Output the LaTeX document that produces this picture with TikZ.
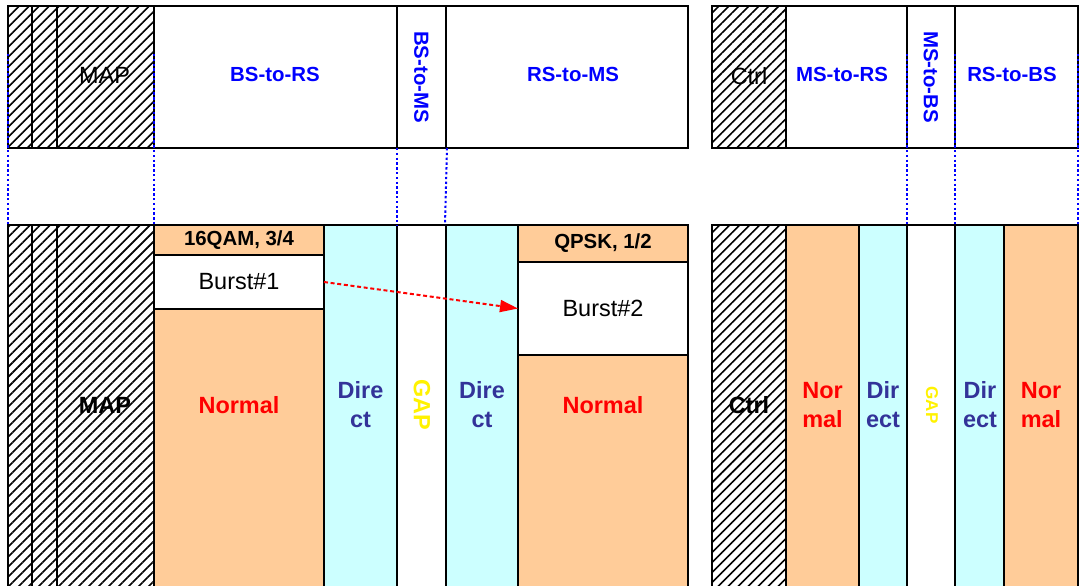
\documentclass[tikz,border=0pt]{standalone}
\usepackage{fontspec}
\setmainfont{Liberation Sans}
\usetikzlibrary{patterns.meta,arrows.meta}
\definecolor{orangefill}{RGB}{255,204,153}
\definecolor{cyanfill}{RGB}{204,255,255}
\definecolor{dirblue}{RGB}{51,51,153}
\newcommand\fsL{\fontsize{17.6}{21.7}\selectfont}
\newcommand\fsM{\fontsize{15.3}{18}\selectfont}
\newcommand\fsS{\fontsize{12.8}{15}\selectfont}
\newcommand\cell[7]{\node[#6, minimum width={(#4-#2)*0.75pt}, minimum height={(#5-#3)*0.75pt}] (#1) at ({(#2+#4)/2},{(#3+#5)/2}) {#7};}
\tikzset{
  cellbox/.style={draw=black, line width=1.5pt, inner sep=0pt, outer sep=0pt, fill=white},
  hatchbox/.style={cellbox, pattern={Lines[angle=45,distance=5.3pt,line width=1.2pt]}, pattern color=black},
  orangebox/.style={cellbox, fill=orangefill},
  cyanbox/.style={cellbox, fill=cyanfill},
  toplbl/.style={font=\fsM\bfseries, text=blue, inner sep=0pt},
  hatchlbl/.style={font=\fsL, text=black, inner sep=0pt},
  boldlbl/.style={font=\fsL\bfseries, text=black, inner sep=0pt},
  normlbl/.style={font=\fsL\bfseries, text=red, align=center, inner sep=0pt},
  dirlbl/.style={font=\fsL\bfseries, text=dirblue, align=center, inner sep=0pt},
  gaplbl/.style={font=\fsL\bfseries, text=yellow, rotate=-90, inner sep=0pt},
  gapsmall/.style={font=\fsS\bfseries, text=yellow, rotate=-90, inner sep=0pt},
  hdrlbl/.style={font=\fsM\bfseries, text=black},
  burstlbl/.style={font=\fsL, text=black},
  guide/.style={draw=blue, line width=1.5pt, dash pattern=on 1.8pt off 1.8pt},
  flowarrow/.style={draw=red, line width=1.5pt, dash pattern=on 3pt off 2pt, -{Triangle[length=13.5pt,width=9pt]}}
}
\begin{document}
\begin{tikzpicture}[x=0.75pt,y=-0.75pt]
\useasboundingbox (0,0) rectangle (1080,585);
\clip (0,0) rectangle (1080,585);
% ---- top frame, left
\cell{t1}{8}{6}{32}{148}{hatchbox}{}
\cell{t2}{32}{6}{57}{148}{hatchbox}{}
\cell{tmap}{57}{6}{154}{148}{hatchbox}{}
\cell{tbsrs}{154}{6}{397}{148}{cellbox}{}
\cell{tbsms}{397}{6}{446}{148}{cellbox}{}
\cell{trsms}{446}{6}{688}{148}{cellbox}{}
% ---- top frame, right
\cell{tctrl}{712}{6}{786}{148}{hatchbox}{}
\cell{tmsrs}{786}{6}{907}{148}{cellbox}{}
\cell{tmsbs}{907}{6}{955}{148}{cellbox}{}
\cell{trsbs}{955}{6}{1078}{148}{cellbox}{}
% top labels
\node[hatchlbl] (lmap) at (104.5,75) {MAP};
\node[toplbl] (lbsrs) at (275,74) {BS-to-RS};
\node[toplbl, rotate=-90] (lbsms) at (tbsms) {BS-to-MS};
\node[toplbl] (lrsms) at (573,74) {RS-to-MS};
\node[hatchlbl] (lctrl) at (749,76) {Ctrl};
\node[toplbl] (lmsrs) at (842,74) {MS-to-RS};
\node[toplbl, rotate=-90] (lmsbs) at (tmsbs) {MS-to-BS};
\node[toplbl] (lrsbs) at (1012,74) {RS-to-BS};
% ---- bottom frame, left
\cell{b1}{8}{225}{32}{600}{hatchbox}{}
\cell{b2}{32}{225}{57}{600}{hatchbox}{}
\cell{bmap}{57}{225}{154}{600}{hatchbox}{}
\cell{h16}{154}{225}{324}{255}{orangebox}{}
\cell{bb1}{154}{255}{324}{309}{cellbox}{}
\cell{bn1}{154}{309}{324}{600}{orangebox}{}
\cell{bd1}{324}{225}{397}{600}{cyanbox}{}
\cell{bgap}{397}{225}{446}{600}{cellbox}{}
\cell{bd2}{446}{225}{518}{600}{cyanbox}{}
\cell{hq}{518}{225}{688}{262}{orangebox}{}
\cell{bb2}{518}{262}{688}{355}{cellbox}{}
\cell{bn2}{518}{355}{688}{600}{orangebox}{}
% ---- bottom frame, right
\cell{bctrl}{712}{225}{786}{600}{hatchbox}{}
\cell{bn3}{786}{225}{859}{600}{orangebox}{}
\cell{bd3}{859}{225}{907}{600}{cyanbox}{}
\cell{bgap2}{907}{225}{955}{600}{cellbox}{}
\cell{bd4}{955}{225}{1004}{600}{cyanbox}{}
\cell{bn4}{1004}{225}{1078}{600}{orangebox}{}
% bottom labels
\node[hdrlbl] (l16) at (h16) {16QAM, 3/4};
\node[burstlbl] (lb1) at (bb1) {Burst\#1};
\node[hdrlbl] (lq) at (hq) {QPSK, 1/2};
\node[burstlbl] (lb2) at (bb2) {Burst\#2};
\node[boldlbl] (lmap2) at (105,405) {MAP};
\node[normlbl] (ln1) at (239,405) {Normal};
\node[dirlbl] (ld1) at (360.5,405) {Dire\\ct};
\node[gaplbl] (lg1) at (422,405) {GAP};
\node[dirlbl] (ld2) at (482,405) {Dire\\ct};
\node[normlbl] (ln2) at (603,405) {Normal};
\node[boldlbl] (lctrl2) at (749,405) {Ctrl};
\node[normlbl] (ln3) at (822.5,405) {Nor\\mal};
\node[dirlbl] (ld3) at (883,405) {Dir\\ect};
\node[gapsmall] (lg2) at (932,405) {GAP};
\node[dirlbl] (ld4) at (980,405) {Dir\\ect};
\node[normlbl] (ln4) at (1041,405) {Nor\\mal};
% ---- guide lines
\coordinate (g1a) at (8,54);    \coordinate (g1b) at (8,225);
\coordinate (g2a) at (154,54);  \coordinate (g2b) at (154,225);
\coordinate (g3a) at (397,148); \coordinate (g3b) at (397,225);
\coordinate (g4a) at (447,148); \coordinate (g4b) at (445,225);
\coordinate (g5a) at (907,54);  \coordinate (g5b) at (907,225);
\coordinate (g6a) at (955,54);  \coordinate (g6b) at (955,225);
\coordinate (g7a) at (1078,54); \coordinate (g7b) at (1078,225);
\foreach \i in {1,...,7} {\draw[guide] (g\i a) -- (g\i b);}
% ---- arrow
\draw[flowarrow] (bb1.east) -- (bb2.west);
\end{tikzpicture}
\end{document}
